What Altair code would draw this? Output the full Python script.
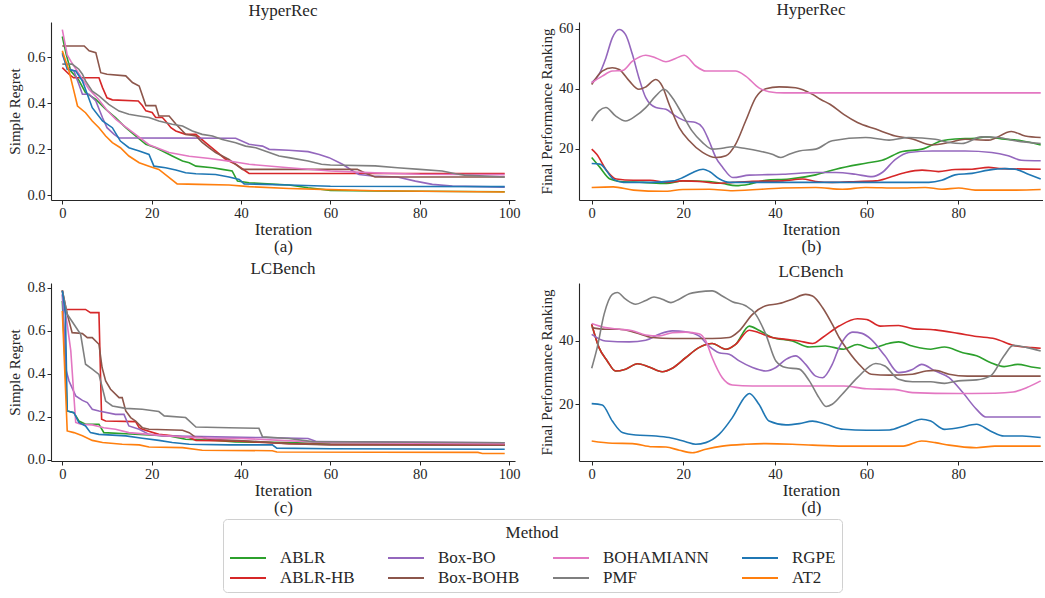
import altair as alt
import pandas as pd

FONT = "Liberation Serif"
TXT = "#262626"

METHODS = ["ABLR", "ABLR-HB", "Box-BO", "Box-BOHB", "BOHAMIANN", "PMF", "RGPE", "AT2"]
LEGEND_ORDER = ["ABLR", "Box-BO", "BOHAMIANN", "RGPE", "ABLR-HB", "Box-BOHB", "PMF", "AT2"]
COLOR_OF = {"ABLR": "#2ca02c", "ABLR-HB": "#d62728", "Box-BO": "#9467bd", "Box-BOHB": "#8c564b",
            "BOHAMIANN": "#e377c2", "PMF": "#7f7f7f", "RGPE": "#1f77b4", "AT2": "#ff7f0e"}

# ---------------- (a) HyperRec, simple regret: (iteration, value)
A_ABLR = [(0,0.69),(0.9,0.61),(1.9,0.54),(3.7,0.50),(5.2,0.446),(7.5,0.417),(9.7,0.374),(11.9,0.338),(14.2,0.294),(16.4,0.258),(18.7,0.222),(20.9,0.207),(22.4,0.193),(24.6,0.171),(26.9,0.149),(28.4,0.142),(29.9,0.127),(33.6,0.12),(35.8,0.113),(38,0.106),(39.2,0.062),(41.8,0.055),(47.8,0.048),(50.7,0.045),(55,0.033),(60,0.022),(70,0.019),(99,0.016)]
A_ABLR_HB = [(0,0.555),(1.5,0.526),(2.5,0.511),(8.2,0.511),(9,0.468),(10,0.424),(11.2,0.415),(17,0.41),(17.9,0.39),(18.7,0.367),(20.1,0.36),(20.9,0.338),(22.4,0.338),(23.1,0.323),(24.3,0.294),(25.4,0.28),(27.6,0.265),(29.9,0.265),(32,0.23),(34.3,0.193),(36.6,0.156),(38.8,0.135),(41,0.106),(41.8,0.095),(99,0.095)]
A_BOX_BO = [(0,0.613),(1.1,0.555),(2.6,0.54),(3.7,0.483),(4.5,0.439),(6,0.439),(7.5,0.41),(9,0.337),(10,0.294),(11.6,0.265),(12.7,0.25),(38.8,0.248),(41.8,0.222),(44.8,0.214),(46.3,0.2),(50.7,0.196),(55,0.19),(57.5,0.178),(59.7,0.164),(62.7,0.135),(65,0.106),(66.4,0.091),(69.4,0.084),(75,0.08),(79,0.062),(82.8,0.048),(87.3,0.041),(99,0.036)]
A_BOX_BOHB = [(0,0.649),(4.9,0.649),(6,0.628),(7.5,0.62),(8.6,0.533),(10,0.526),(14.2,0.519),(15.7,0.49),(17.2,0.475),(18.7,0.39),(20.9,0.39),(21.6,0.345),(23.9,0.345),(25.4,0.31),(27.6,0.265),(29.9,0.258),(31.3,0.23),(32.8,0.207),(34.3,0.186),(35.8,0.171),(37.3,0.156),(38.8,0.135),(40.3,0.113),(66,0.113),(68,0.095),(70,0.08),(99,0.08)]
A_BOHAMIANN = [(0,0.72),(1.1,0.61),(2,0.58),(4,0.52),(6,0.46),(8,0.42),(10,0.37),(12,0.33),(14,0.30),(16,0.27),(19.4,0.22),(23.9,0.186),(28.4,0.17),(33,0.16),(37.3,0.149),(41.8,0.135),(50.7,0.12),(60,0.106),(70,0.098),(80,0.092),(99,0.09)]
A_PMF = [(0,0.57),(2.2,0.57),(3.7,0.548),(4.5,0.526),(5.2,0.497),(6.7,0.453),(8.2,0.432),(10.4,0.395),(12.7,0.366),(14.9,0.352),(17.2,0.345),(19.4,0.338),(21.6,0.323),(24.6,0.309),(26.9,0.301),(29.1,0.28),(31.3,0.265),(33.6,0.258),(35.8,0.243),(38.8,0.229),(41,0.214),(43.3,0.207),(46.3,0.186),(48.5,0.171),(50.7,0.164),(55,0.149),(58,0.135),(60,0.132),(70,0.128),(75,0.12),(80,0.113),(85,0.106),(88,0.094),(90,0.088),(99,0.08)]
A_RGPE = [(0,0.62),(1.1,0.548),(3,0.54),(4.5,0.497),(5.6,0.439),(6.7,0.381),(9,0.323),(11.2,0.294),(13,0.236),(14.9,0.207),(17.2,0.193),(19.4,0.178),(20.5,0.127),(23.1,0.12),(25.4,0.11),(27.6,0.098),(29.9,0.094),(34.3,0.091),(37.3,0.08),(39.6,0.069),(40.7,0.05),(50.7,0.045),(60,0.04),(99,0.038)]
A_AT2 = [(0,0.628),(1.5,0.54),(2.6,0.453),(3.4,0.388),(5.2,0.359),(6.7,0.323),(8.2,0.294),(9.7,0.258),(11.2,0.229),(13,0.207),(14.9,0.171),(17.2,0.142),(19.4,0.127),(21.6,0.113),(23.5,0.084),(25.7,0.05),(30.6,0.048),(37.3,0.045),(41.8,0.038),(50.7,0.03),(60,0.025),(70,0.02),(99,0.015)]

# ---------------- (b) HyperRec, final performance ranking
B_ABLR = [(0,17),(1.8,13.7),(4,9.8),(6.2,9),(11.2,8.7),(16.3,8.3),(19.9,9.2),(25.7,9),(28.6,8.3),(31.5,7.6),(34.4,8.1),(38,9.4),(43.1,9.8),(48.9,11.2),(53.3,13.1),(59.8,15.1),(63.4,16.1),(67.8,19),(72.1,19.8),(76.4,22.6),(79.3,23.2),(83.7,23.4),(85.9,23.9),(89.5,23.2),(93.8,22.6),(98,21.2)]
B_ABLR_HB = [(0,19.8),(1.1,18.1),(3.3,12.6),(5.4,9.8),(9.1,9.4),(12.7,9.4),(16.3,8.7),(19.9,9.2),(23.6,9),(27.2,8.4),(30.8,8.7),(34.4,9),(41.7,9.2),(46,9.8),(48.9,9),(52.5,8.7),(56.2,8.9),(62,9.2),(64.9,10.3),(68.5,12),(72.1,12.8),(75.7,12.3),(79.3,13),(83,13.1),(86.6,13.7),(89.5,13.3),(98,13.1)]
B_BOX_BO = [(0,42),(1.6,44.8),(3.1,50.3),(4.5,57),(6,59.8),(7.4,58.1),(8.9,51.4),(10.3,43.7),(11.8,37),(14,33.7),(16.2,33.1),(18.3,30.9),(20.5,29.2),(22.7,28.7),(24.2,27),(25.6,22.6),(27.1,17),(28.6,13.7),(30.8,10.3),(34.4,11.1),(41.7,11.4),(48.9,12),(53.3,12),(57.6,11.4),(61.2,10.6),(63.4,12),(66.3,16.4),(69.2,18.7),(74.3,19.2),(81.5,19.2),(87.3,18.7),(90.9,17.6),(93.8,16.1),(98,15.9)]
B_BOX_BOHB = [(0,41.4),(2.3,45.9),(4.5,47),(6,46.4),(8.2,42.6),(10.3,39.8),(11.8,40.6),(14,43.1),(15.4,40.9),(16.9,34.8),(19.1,27),(21.3,22.6),(24.2,18.7),(27.1,17),(29.3,17.6),(31.4,21.4),(33.6,29.2),(35.8,37),(38,40),(40.9,40.6),(44.5,40.3),(48.2,38.1),(50,36.4),(52,34.8),(55,31.4),(58,28.7),(62,26.5),(66.3,24.2),(70,23.2),(74.3,21.2),(78,22),(81.5,23.1),(86.6,22.8),(91.6,25.7),(94.6,24.2),(98,23.7)]
B_BOHAMIANN = [(0,42),(2.3,44.2),(4.5,45.9),(6.7,46.1),(8.9,49.2),(11.8,51.2),(14,50.3),(16.2,49),(18.3,50.1),(20.2,51.2),(22.7,47.6),(24.9,45.9),(27.8,45.9),(31.4,45.9),(33.6,44.2),(36.5,40.3),(38.7,39),(42,38.6),(98,38.6)]
B_PMF = [(0,29.2),(1.6,32.6),(3.1,33.7),(5.2,30.9),(7.4,29.2),(9.6,30.9),(11.8,33.7),(14,37.6),(15.8,39.8),(17.6,37),(19.8,31.4),(21.9,25.9),(24.2,22),(26.3,19.8),(28.5,20.1),(30.7,20.6),(33.6,20),(36.5,19.2),(39.4,18.1),(41.3,17),(43.1,18.1),(45.3,19.2),(48.9,19.8),(52.5,22.6),(59.8,23.7),(64.9,22.8),(69.2,23.7),(75,23.1),(78,22),(80.8,21.7),(85.1,23.9),(88.8,23.7),(92.4,22.6),(98,21.7)]
B_RGPE = [(0,15),(1.8,14.8),(4.7,9.8),(6.9,8.7),(12.7,8.7),(17.8,9.2),(19.9,10.3),(22.1,12),(24.3,13.1),(25.7,12.3),(27.9,9.8),(30.1,8.7),(73.6,8.7),(76.4,9.4),(79.3,11.2),(83,11.7),(86.6,12.8),(90.2,13.3),(92.4,13.1),(95.3,11.4),(98,9.8)]
B_AT2 = [(0,7),(4.7,7.2),(9.1,6.1),(15.6,5.7),(19.9,6.3),(25.7,6.4),(30.8,5.9),(41.7,6.8),(48.9,7),(54.7,6.4),(59.8,7),(66.8,6.8),(72.8,7),(76.4,6.4),(80.1,6.8),(83.7,6.1),(92.4,6.1),(98,6.3)]

# ---------------- (c) LCBench, simple regret
C_ABLR = [(0,0.74),(1.1,0.228),(2.6,0.22),(3.7,0.181),(5.2,0.166),(8.2,0.166),(9.3,0.127),(14.2,0.122),(19.4,0.116),(23.9,0.112),(27.6,0.096),(34.3,0.091),(38.8,0.084),(50.7,0.081),(60,0.075),(99,0.07)]
C_ABLR_HB = [(0,0.789),(0.7,0.70),(5.2,0.70),(6.3,0.685),(8.2,0.685),(8.8,0.189),(9.7,0.181),(16.4,0.178),(17.2,0.15),(17.9,0.143),(21.6,0.119),(28.4,0.104),(29.9,0.091),(38.8,0.088),(50.7,0.076),(60,0.072),(99,0.07)]
C_BOX_BO = [(0,0.77),(0.9,0.414),(1.5,0.367),(3,0.298),(4.5,0.277),(5.6,0.267),(6.7,0.236),(8.2,0.228),(11.9,0.212),(13.8,0.212),(14.9,0.158),(17.2,0.143),(19.4,0.119),(22.4,0.112),(34.3,0.107),(44.8,0.104),(55,0.1),(57,0.085),(99,0.08)]
C_BOX_BOHB = [(0,0.789),(1.1,0.678),(2.2,0.592),(4.5,0.588),(5.6,0.569),(6.7,0.569),(8.2,0.538),(8.9,0.43),(9.7,0.367),(10.8,0.329),(12.7,0.29),(13.4,0.29),(14.2,0.228),(15.3,0.197),(16.4,0.181),(17.9,0.15),(19.4,0.143),(26.9,0.138),(28.4,0.127),(29.9,0.104),(31.3,0.104),(32.8,0.096),(41.8,0.088),(50.7,0.075),(60,0.07),(99,0.068)]
C_BOHAMIANN = [(0,0.77),(1.1,0.631),(1.9,0.507),(3,0.174),(4.1,0.166),(6.7,0.163),(9.3,0.15),(11.9,0.143),(14.9,0.127),(19.4,0.119),(26.9,0.107),(34.3,0.1),(40,0.1),(50,0.09),(60,0.08),(99,0.075)]
C_PMF = [(0,0.789),(1.1,0.678),(2.6,0.631),(4.1,0.584),(5.2,0.445),(6.7,0.422),(8.2,0.398),(9.7,0.274),(11.2,0.251),(14.2,0.24),(17.9,0.236),(21.6,0.225),(22.8,0.205),(27.6,0.197),(29.9,0.153),(37.3,0.15),(44,0.147),(44.8,0.107),(50.7,0.1),(56,0.085),(99,0.08)]
C_RGPE = [(0,0.786),(0.7,0.678),(1.1,0.228),(2.6,0.22),(3.7,0.174),(5.2,0.158),(6.3,0.127),(8.2,0.119),(14.2,0.112),(17.9,0.101),(21.6,0.091),(24.6,0.081),(28.4,0.073),(37.3,0.07),(47,0.07),(48,0.055),(60,0.052),(99,0.05)]
C_AT2 = [(0,0.693),(1.1,0.135),(2.6,0.127),(4.5,0.112),(6.7,0.091),(9,0.081),(13.4,0.073),(17.2,0.07),(19.4,0.06),(26.9,0.057),(31.3,0.045),(47,0.043),(48,0.037),(93,0.035),(94,0.03),(99,0.03)]

# ---------------- (d) LCBench, final performance ranking
D_ABLR = [(0,45.3),(1.6,37.9),(3.4,33.7),(5.2,30.5),(7.4,31.1),(10,32.8),(12.5,31.8),(15.4,30.3),(17.6,31.4),(20.5,34.7),(23.4,37.9),(26.3,39.2),(29.3,37.4),(31.4,38.9),(34.4,44.7),(36.5,43.4),(39.4,41.1),(43.8,40),(47.5,38.1),(51,38.4),(55,37.4),(58,38.9),(61,37.6),(64,38.9),(67,39.7),(70,38.4),(74,37.4),(77,38.1),(81,36.3),(84,35.3),(87,33.2),(90,31.9),(93,32.6),(96,31.8),(98,31.4)]
D_ABLR_HB = [(0,45.3),(1.6,37.9),(3.4,33.7),(5.2,30.5),(7.4,31.1),(10,32.8),(12.5,31.8),(15.4,30.3),(17.6,31.4),(20.5,34.7),(23.4,37.9),(26.3,39.2),(29.3,37.4),(31.4,38.9),(34.4,43.4),(36.5,42.6),(39.4,41.1),(42.4,40.5),(45.3,40),(48.2,39.2),(50.4,41.1),(54,44.7),(58,47),(60,46.8),(63,44.7),(67,44.9),(70,43.9),(75,43.5),(80,42.4),(84,41.4),(88,40.7),(92,38.6),(96,37.9),(98,37.7)]
D_BOX_BO = [(0,42.1),(3,40),(8.2,39.7),(11.8,40.2),(14.7,42.1),(17.6,43.2),(20.5,42.9),(23.4,41.6),(25.6,38.4),(27.8,36.3),(30,35.8),(32.2,33.7),(35.1,31.6),(38,30.5),(40.2,31.6),(42.4,34.2),(44.5,35.3),(46.7,32.6),(48.9,28.9),(50.4,28.4),(52.5,32.6),(54,37.9),(57,42.8),(59,42.4),(61,40.5),(64,35.3),(67,30),(70,31),(72,32.6),(75,30.5),(78,28.4),(81,23.7),(84,18.4),(86,16),(98,16)]
D_BOX_BOHB = [(0,44.2),(3,43.7),(6,43.7),(9.6,42.6),(13.2,41.1),(17.6,40.8),(26.3,40.8),(30,41.1),(32.2,43.2),(35.1,48.4),(38,51.1),(40.9,51.8),(43.8,53.2),(46.7,54.7),(48.2,54.2),(50.4,50.5),(52.5,45.3),(54,41.1),(55,38.9),(58,33.2),(61,29.5),(65,29.2),(70,29.5),(73,30.5),(75,30.7),(78,29.5),(82,28.9),(98,28.9)]
D_BOHAMIANN = [(0,45.5),(3,44.2),(6,43.7),(8.9,43.2),(11.8,41.9),(14.7,41.6),(17.6,42.6),(20.5,42.8),(23.4,42.3),(24.9,40),(26.3,34.7),(28.5,28.4),(30.7,26.1),(35.1,25.8),(55,25.8),(60,24.9),(66,24.7),(70,23.7),(80,23.4),(88,23.5),(92,23.9),(95,25.3),(98,27.4)]
D_PMF = [(0,31.4),(1.2,37.9),(2.7,48.4),(4.5,54.7),(5.6,55.3),(7.4,53.2),(9.6,51.6),(11.8,52.8),(13.6,53.9),(15.4,53.2),(17.3,52.1),(19.1,53.2),(21.3,54.9),(23.4,55.5),(26.3,55.8),(28.5,54.2),(30.7,52.4),(33.6,51.1),(35.8,48.4),(38,42.1),(40.2,33.7),(42.4,31.6),(45.3,31.1),(47.5,27.4),(49.6,22.1),(51.2,19.3),(52.5,20),(55,23.7),(58,28.4),(62,32.9),(64,32.1),(67,27.9),(70,27.1),(74,27.1),(77,26.6),(80,27.4),(84,27.7),(87,28.9),(90,35.3),(92,38.6),(95,37.9),(98,36.8)]
D_RGPE = [(0,20.2),(2.3,19.8),(4.5,14.7),(6.7,11.1),(9.6,10.3),(14,10),(16.9,9.5),(20.5,8.2),(22.7,7.4),(24.9,7.9),(27.8,10.5),(30.7,15.8),(33.6,22.6),(34.4,23.4),(36.5,20),(38.7,14.7),(42.4,13.5),(45.3,13.9),(48.2,14.7),(51.1,13.7),(55,12.1),(60,11.8),(65,11.9),(68,13.2),(72,15.3),(74,14.7),(77,12.1),(80,12.6),(84,13.7),(87,11.6),(90,10),(94,10),(98,9.5)]
D_AT2 = [(0,8.4),(4.5,7.7),(8.9,7.6),(13.2,6.6),(16.2,6.5),(19.1,5.5),(22,4.7),(24.9,5.8),(28.5,6.8),(33.6,7.4),(38,7.6),(43.8,7.4),(48.2,7.1),(55,6.8),(68,6.8),(72,8.4),(75,7.9),(78,7.1),(84,6.3),(88,6.8),(98,6.8)]


def frame(series):
    rows = []
    for name, pts in zip(METHODS, series):
        for it, v in pts:
            rows.append({"method": name, "iter": it, "value": v})
    return pd.DataFrame(rows)


color = alt.Color(
    "method:N",
    scale=alt.Scale(domain=LEGEND_ORDER, range=[COLOR_OF[m] for m in LEGEND_ORDER]),
    legend=alt.Legend(title="Method"),
)


def panel(series, title, ytitle, xdom, xticks, ydom, yticks, yfmt, caption, interp):
    return alt.Chart(frame(series)).mark_line(
        strokeWidth=1.6, interpolate=interp, clip=True
    ).encode(
        x=alt.X("iter:Q", scale=alt.Scale(domain=xdom, nice=False, zero=False),
                axis=alt.Axis(values=xticks, format="d", title=["Iteration", caption])),
        y=alt.Y("value:Q", scale=alt.Scale(domain=ydom, nice=False, zero=False),
                axis=alt.Axis(values=yticks, format=yfmt, title=ytitle)),
        color=color,
        detail="method:N",
    ).properties(width=464, height=178, title=title)


XA = [-2.53, 101.3]
XB = [-2.77, 98.5]

pa = panel([A_ABLR, A_ABLR_HB, A_BOX_BO, A_BOX_BOHB, A_BOHAMIANN, A_PMF, A_RGPE, A_AT2],
           "HyperRec", "Simple Regret", XA, [0, 20, 40, 60, 80, 100],
           [-0.02, 0.753], [0.0, 0.2, 0.4, 0.6], ".1f", "(a)", "linear")
pb = panel([B_ABLR, B_ABLR_HB, B_BOX_BO, B_BOX_BOHB, B_BOHAMIANN, B_PMF, B_RGPE, B_AT2],
           "HyperRec", "Final Performance Ranking", XB, [0, 20, 40, 60, 80],
           [2.8, 62.3], [20, 40, 60], "d", "(b)", "monotone")
pc = panel([C_ABLR, C_ABLR_HB, C_BOX_BO, C_BOX_BOHB, C_BOHAMIANN, C_PMF, C_RGPE, C_AT2],
           "LCBench", "Simple Regret", XA, [0, 20, 40, 60, 80, 100],
           [-0.005, 0.823], [0.0, 0.2, 0.4, 0.6, 0.8], ".1f", "(c)", "linear")
pd_ = panel([D_ABLR, D_ABLR_HB, D_BOX_BO, D_BOX_BOHB, D_BOHAMIANN, D_PMF, D_RGPE, D_AT2],
            "LCBench", "Final Performance Ranking", XB, [0, 20, 40, 60, 80],
            [2.1, 58.3], [20, 40], "d", "(d)", "monotone")

chart = alt.concat(pa, pb, pc, pd_, columns=2).properties(
    spacing=alt.RowColnumber(row=83, column=64),
    bounds="flush",
    padding={"left": 7, "top": 0, "right": 0, "bottom": 0},
    background="white",
).configure_view(stroke=None).configure_axis(
    grid=False, domainColor=TXT, tickColor=TXT, domainWidth=1.1, tickWidth=1, tickSize=4,
    labelFont=FONT, labelFontSize=14.5, labelColor=TXT, labelPadding=2,
    titleFont=FONT, titleFontSize=17, titleFontWeight="normal", titleColor=TXT,
    titlePadding=2, titleLineHeight=17,
).configure_axisY(
    titleFontSize=15, titlePadding=4,
).configure_title(
    font=FONT, fontSize=17, fontWeight="normal", color=TXT, anchor="middle", offset=2,
    frame="group",
).configure_legend(
    orient="none", legendX=172, legendY=497, direction="horizontal", columns=4,
    titleFont=FONT, titleFontSize=17, titleFontWeight="normal", titleColor=TXT,
    titleAnchor="middle", titlePadding=6,
    labelFont=FONT, labelFontSize=17, labelColor=TXT, labelOffset=31,
    symbolType="M-1,0H3", symbolSize=324, symbolStrokeWidth=2,
    columnPadding=29, rowPadding=2,
    fillColor="white", strokeColor="#d0d0d0", cornerRadius=4, padding=6,
)

chart.save("out.html", embed_options={"renderer": "svg", "actions": False})
